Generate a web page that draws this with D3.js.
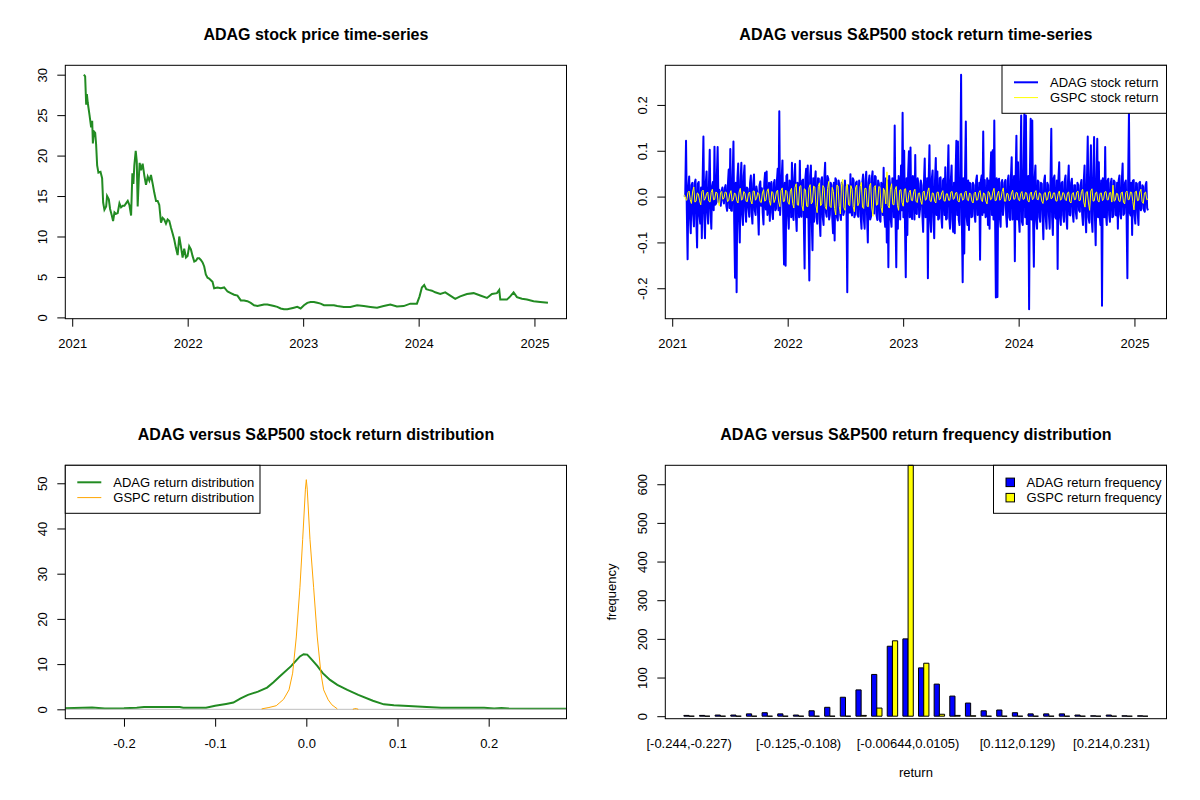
<!DOCTYPE html>
<html>
<head>
<meta charset="utf-8">
<script src="https://cdn.jsdelivr.net/npm/d3@7"></script>
<style>
  body { margin: 0; background: #fff; }
  svg { font-family: "Liberation Sans", Arial, sans-serif; }
</style>
</head>
<body>
<div id="chart"></div>
<script>
// ---- data ----

// ADAG closing price, time as decimal year
const priceTime = [2021.101, 2021.112, 2021.121, 2021.127, 2021.135, 2021.150, 2021.164, 2021.173, 2021.179, 2021.187,
  2021.199, 2021.207, 2021.216, 2021.227, 2021.245, 2021.259, 2021.268, 2021.279, 2021.294, 2021.302,
  2021.317, 2021.328, 2021.343, 2021.354, 2021.366, 2021.380, 2021.394, 2021.409, 2021.423, 2021.438,
  2021.452, 2021.466, 2021.481, 2021.495, 2021.510, 2021.521, 2021.530, 2021.538, 2021.550, 2021.559,
  2021.567, 2021.576, 2021.584, 2021.596, 2021.610, 2021.625, 2021.639, 2021.654, 2021.668, 2021.682,
  2021.697, 2021.711, 2021.726, 2021.740, 2021.754, 2021.769, 2021.783, 2021.797, 2021.812, 2021.826,
  2021.841, 2021.855, 2021.869, 2021.884, 2021.898, 2021.913, 2021.927, 2021.941, 2021.956, 2021.970,
  2021.985, 2021.999, 2022.013, 2022.028, 2022.042, 2022.057, 2022.071, 2022.085, 2022.100, 2022.114,
  2022.129, 2022.143, 2022.157, 2022.172, 2022.186, 2022.201, 2022.215, 2022.229, 2022.258, 2022.287,
  2022.316, 2022.345, 2022.373, 2022.402, 2022.431, 2022.460, 2022.489, 2022.517, 2022.546, 2022.575,
  2022.604, 2022.632, 2022.661, 2022.690, 2022.719, 2022.748, 2022.776, 2022.805, 2022.834, 2022.863,
  2022.892, 2022.920, 2022.949, 2022.978, 2023.007, 2023.036, 2023.064, 2023.093, 2023.122, 2023.151,
  2023.180, 2023.208, 2023.237, 2023.266, 2023.295, 2023.352, 2023.409, 2023.467, 2023.525, 2023.582,
  2023.640, 2023.697, 2023.755, 2023.812, 2023.870, 2023.928, 2023.985, 2024.008, 2024.028, 2024.048,
  2024.066, 2024.086, 2024.115, 2024.143, 2024.187, 2024.230, 2024.273, 2024.316, 2024.359, 2024.417,
  2024.475, 2024.532, 2024.590, 2024.633, 2024.676, 2024.696, 2024.705, 2024.762, 2024.791, 2024.820,
  2024.849, 2024.892, 2024.935, 2024.993, 2025.050, 2025.117];
const priceValues = [30.0, 29.8, 26.3, 27.6, 26.5, 25.0, 23.5, 24.3, 21.5, 23.0,
  22.8, 21.4, 18.8, 17.9, 18.0, 17.2, 14.2, 13.3, 13.7, 15.0,
  14.6, 13.4, 12.6, 11.9, 13.0, 12.8, 12.9, 14.1, 13.6, 13.8,
  13.8, 14.1, 14.4, 13.9, 12.6, 17.8, 16.5, 18.8, 20.6, 19.3,
  13.7, 17.0, 19.1, 18.2, 19.0, 17.5, 16.4, 17.4, 16.9, 17.6,
  16.5, 15.4, 14.4, 14.4, 13.9, 11.7, 12.3, 12.1, 11.6, 12.1,
  11.9, 11.1, 10.4, 9.6, 8.6, 7.7, 10.0, 8.8, 7.4, 8.5,
  7.4, 7.6, 8.8, 8.4, 7.6, 6.9, 7.0, 7.3, 7.3, 7.1,
  6.8, 6.3, 5.3, 4.9, 4.8, 4.6, 4.4, 3.6, 3.7, 3.6,
  3.7, 3.2, 3.0, 2.8, 2.7, 2.1, 2.1, 2.0, 1.8, 1.5,
  1.4, 1.5, 1.6, 1.6, 1.5, 1.4, 1.3, 1.1, 1.0, 1.0,
  1.1, 1.2, 1.3, 1.1, 1.5, 1.8, 1.9, 1.9, 1.8, 1.7,
  1.5, 1.5, 1.5, 1.5, 1.4, 1.3, 1.3, 1.5, 1.4, 1.3,
  1.2, 1.4, 1.6, 1.35, 1.4, 1.7, 1.7, 2.6, 3.7, 4.0,
  3.5, 3.4, 3.3, 3.1, 2.9, 3.1, 2.7, 2.3, 2.6, 2.9,
  3.0, 2.7, 2.4, 2.9, 3.0, 3.4, 2.2, 2.2, 2.6, 3.1,
  2.5, 2.3, 2.2, 2.0, 1.9, 1.8];

// daily returns, evenly spread between the first and last return date
const returnStart = 2021.106;
const returnEnd = 2025.117;
const adagReturns = [
  0.000, 0.004, 0.122, -0.030, -0.137, 0.020, 0.044, -0.045, -0.080, 0.025,
  0.030, -0.040, -0.065, 0.030, 0.037, -0.050, -0.111, 0.028, 0.032, -0.042,
  -0.059, 0.020, -0.091, 0.035, 0.131, -0.038, -0.091, 0.030, 0.055, -0.035,
  -0.059, 0.025, 0.102, -0.032, -0.070, 0.022, 0.032, -0.030, 0.109, -0.018,
  -0.015, 0.045, 0.108, -0.012, 0.015, -0.010, -0.020, 0.012, 0.020, -0.008,
  -0.015, 0.018, 0.025, -0.020, -0.031, 0.028, 0.059, -0.025, 0.104, -0.030,
  -0.031, 0.040, 0.120, -0.060, -0.177, 0.030, -0.209, 0.040, 0.072, -0.045,
  -0.100, 0.035, 0.074, -0.040, -0.062, 0.045, 0.068, -0.030, -0.055, 0.020,
  0.017, -0.025, -0.044, 0.030, 0.046, -0.035, -0.059, 0.028, 0.048, -0.030,
  -0.040, 0.022, 0.010, -0.030, -0.083, 0.025, 0.033, -0.020, 0.018, -0.035,
  -0.061, 0.030, 0.052, -0.028, 0.055, -0.040, -0.026, 0.030, -0.053, 0.025,
  0.032, -0.035, -0.049, 0.028, 0.036, -0.030, -0.026, 0.035, 0.061, -0.030,
  0.186, -0.040, -0.004, 0.040, 0.079, -0.050, -0.148, 0.030, -0.151, 0.045,
  0.048, -0.040, -0.070, 0.035, 0.026, -0.045, 0.074, -0.035, -0.051, 0.040,
  0.071, -0.040, -0.075, 0.030, 0.028, -0.045, 0.078, -0.040, -0.044, 0.035,
  0.037, -0.050, -0.157, 0.040, 0.061, -0.045, 0.068, -0.060, -0.183, 0.045,
  0.068, -0.050, -0.117, 0.040, -0.055, 0.035, 0.055, -0.045, -0.059, 0.040,
  0.039, -0.050, -0.086, 0.035, 0.042, -0.045, -0.062, 0.040, 0.074, -0.035,
  -0.044, 0.045, 0.039, -0.050, -0.040, 0.030, 0.025, -0.045, -0.080, 0.030,
  -0.096, 0.040, 0.036, -0.045, -0.052, 0.035, 0.025, -0.040,
  -0.051, 0.030, 0.023, -0.040, -0.033, 0.035, 0.010, -0.030, -0.209, 0.025,
  0.000, -0.035, 0.049, -0.030, -0.041, 0.040, 0.036, -0.045, -0.038, 0.030,
  0.033, -0.040, -0.044, 0.035, 0.025, -0.045, -0.070, 0.030, 0.048, -0.050,
  -0.070, 0.035, 0.054, -0.040, -0.100, 0.030, 0.046, -0.050, -0.044, 0.040,
  0.055, -0.035, -0.037, 0.045, 0.043, -0.040, -0.051, 0.035, 0.028, -0.050,
  -0.055, 0.030, 0.025, -0.040, 0.063, -0.045, -0.066, 0.040, -0.100, 0.035,
  -0.154, 0.045, 0.028, -0.050, -0.066, 0.040, 0.039, -0.045, 0.155, -0.040,
  -0.154, 0.035, -0.070, 0.045, 0.025, -0.050, 0.068, -0.030, 0.183, -0.045,
  0.100, -0.060, -0.176, 0.040, -0.084, 0.050, 0.099, -0.045, 0.107, -0.040,
  -0.049, 0.045, 0.032, -0.050, 0.091, -0.035, -0.038, 0.040, 0.028, -0.045,
  -0.028, 0.035, 0.025, -0.040, -0.077, 0.030, 0.083, -0.045, -0.044, 0.040,
  -0.178, 0.035, 0.112, -0.050, -0.077, 0.040, 0.057, -0.045, -0.091, 0.035,
  0.084, -0.040, 0.055, -0.050, -0.048, 0.040, 0.042, -0.045, -0.068, 0.035,
  0.039, -0.040, 0.064, -0.050, -0.048, 0.040, 0.112, -0.045, -0.070, 0.035,
  0.068, -0.050, -0.077, 0.030, -0.080, 0.045, 0.122, -0.040, 0.120, -0.050,
  -0.062, 0.040, 0.266, -0.055, -0.187, 0.040, -0.124, 0.050, 0.164, -0.045,
  -0.062, 0.035, -0.073, 0.030, 0.028, -0.045, -0.044, 0.030, 0.025, -0.040,
  -0.055, 0.035, 0.046, -0.040, -0.033, 0.030, -0.138, 0.035, 0.046, -0.040,
  0.142, -0.035, 0.036, -0.045, -0.041, 0.040, -0.062, 0.035, -0.070, 0.045,
  0.097, -0.040, 0.101, -0.050, 0.166, -0.045, -0.220, 0.040, -0.219, 0.035,
  0.039, -0.045, -0.066, 0.030, 0.036, -0.040, -0.019, 0.030,
  0.036, -0.040, -0.066, 0.035, 0.046, -0.045, -0.051, 0.040, 0.086, -0.050,
  -0.033, 0.045, -0.141, 0.040, 0.133, -0.050, 0.075, -0.045, -0.077, 0.050,
  0.177, -0.055, -0.062, 0.050, 0.180, -0.045, 0.177, -0.060, -0.030, 0.045,
  -0.246, 0.050, 0.170, -0.050, 0.166, -0.045, -0.153, 0.040, 0.068, -0.050,
  -0.070, 0.035, 0.032, -0.045, -0.055, 0.030, 0.028, -0.040, -0.093, 0.035,
  0.046, -0.045, -0.070, 0.030, 0.025, -0.040, -0.070, 0.035, 0.148, -0.045,
  -0.084, 0.040, 0.046, -0.045, -0.048, 0.035, -0.158, 0.040, 0.075, -0.045,
  -0.062, 0.030, 0.032, -0.040, -0.055, 0.035, 0.046, -0.045, -0.070, 0.030,
  0.068, -0.040, -0.041, 0.030, 0.039, -0.035, -0.055, 0.025, 0.025, -0.035,
  -0.048, 0.030, 0.025, -0.030, -0.033, 0.025, 0.036, -0.040, -0.062, 0.035,
  0.068, -0.045, -0.078, 0.040, 0.131, -0.045, -0.057, 0.040, 0.112, -0.050,
  -0.077, 0.045, 0.130, -0.040, -0.106, 0.035, 0.126, -0.045, 0.075, -0.040,
  -0.062, 0.035, -0.238, 0.040, 0.039, -0.045, 0.108, -0.040, -0.062, 0.035,
  0.039, -0.040, -0.055, 0.030, 0.039, -0.045, -0.044, 0.035, 0.032, -0.040,
  -0.041, 0.030, -0.070, 0.035, 0.046, -0.040, -0.048, 0.035, 0.072, -0.040,
  -0.037, 0.030, 0.035, -0.045, -0.178, 0.040, 0.184, -0.035, -0.041, 0.030,
  -0.084, 0.035, 0.036, -0.040, -0.059, 0.030, 0.028, -0.035, -0.062, 0.030,
  0.032, -0.030, -0.026, 0.025, 0.021, -0.030, -0.033, 0.025, 0.032, -0.025, -0.030];
const gspcReturns = [
  0.004, -0.006, -0.008, 0.009, 0.012, -0.007, -0.015, 0.010, 0.021, -0.012,
  -0.010, 0.008, 0.006, -0.009, -0.018, 0.011, 0.014, -0.008, -0.004, 0.007,
  0.010, -0.010, -0.012, 0.009, 0.016, -0.007, -0.006, 0.010, 0.008, -0.012,
  -0.020, 0.008, 0.011, -0.006, -0.003, 0.010, 0.009, -0.011, -0.009, 0.006,
  0.013, -0.010, -0.007, 0.008, 0.005, -0.009, -0.014, 0.010, 0.018, -0.008,
  -0.005, 0.011, 0.007, -0.010, -0.011, 0.007, 0.010, -0.009, -0.016, 0.012,
  0.012, -0.008, -0.004, 0.009, 0.006, -0.011, -0.013, 0.008, 0.015, -0.010,
  -0.008, 0.012, 0.017, -0.009, -0.019, 0.011, 0.009, -0.013, -0.006, 0.010,
  0.014, -0.012, -0.022, 0.013, 0.019, -0.011, -0.010, 0.014, 0.011, -0.012,
  -0.017, 0.012,
  0.018, -0.015, -0.025, 0.020, 0.028, -0.018, -0.019, 0.022, 0.024, -0.020,
  -0.031, 0.017, 0.015, -0.021, -0.022, 0.019, 0.026, -0.016, -0.012, 0.023,
  0.021, -0.019, -0.035, 0.022, 0.030, -0.020, -0.016, 0.024, 0.019, -0.022,
  -0.028, 0.018, 0.033, -0.021, -0.024, 0.020, 0.011, -0.026, -0.040, 0.025,
  0.023, -0.021, -0.038, 0.027, 0.038, -0.024, -0.030, 0.022, 0.027, -0.018,
  -0.020, 0.024, 0.016, -0.022, -0.033, 0.019, 0.025, -0.020, -0.014, 0.022,
  0.031, -0.023, -0.026, 0.018, 0.018, -0.021, -0.022, 0.024, 0.029, -0.025,
  -0.043, 0.020, 0.024, -0.019, -0.017, 0.022, 0.020, -0.024, -0.035, 0.018,
  0.012, -0.016, 0.054, -0.020, -0.025, 0.016, 0.028, -0.017, -0.018, 0.015,
  0.022, -0.019, -0.030, 0.014, 0.015, -0.013, -0.021, 0.016, 0.017, -0.012,
  -0.012, 0.009, 0.014, -0.008, -0.009, 0.011, 0.016, -0.010, -0.013, 0.007,
  0.008, -0.009, -0.017, 0.010, 0.012, -0.008, -0.006, 0.011, 0.019, -0.009,
  -0.011, 0.008, 0.007, -0.010, -0.014, 0.009, 0.010, -0.007, -0.005, 0.008,
  0.013, -0.009, -0.010, 0.006, 0.006, -0.008, -0.008, 0.010, 0.011, -0.006,
  -0.004, 0.008, 0.009, -0.009, -0.012, 0.006, 0.007, -0.008, -0.006, 0.009,
  0.012, -0.007, -0.009, 0.008, 0.005, -0.010, -0.014, 0.007, 0.010, -0.008,
  -0.007, 0.009, 0.013, -0.006, -0.011, 0.008, 0.006, -0.010, -0.016, 0.011,
  0.009, -0.007, -0.005, 0.010, 0.018, -0.009, -0.008, 0.006, 0.012, -0.008,
  -0.004, 0.011, 0.019, -0.010, -0.010, 0.007, 0.006, -0.009, -0.007, 0.008,
  0.014, -0.006, -0.005, 0.009, 0.008, -0.007,
  -0.009, 0.007, 0.011, -0.006, -0.005, 0.009, 0.008, -0.008, -0.012, 0.006,
  0.010, -0.007, -0.004, 0.009, 0.013, -0.006, -0.007, 0.008, 0.006, -0.010,
  -0.015, 0.007, 0.009, -0.008, -0.006, 0.010, 0.011, -0.005, -0.003, 0.008,
  0.008, -0.009, -0.010, 0.006, 0.012, -0.008, -0.005, 0.009, 0.007, -0.006,
  -0.009, 0.008, 0.010, -0.011, -0.014, 0.006, 0.009, -0.007, -0.006, 0.010,
  0.012, -0.009, -0.008, 0.011, 0.016, -0.012, -0.023, 0.009, 0.011, -0.014,
  -0.030, 0.012, 0.017, -0.010, -0.009, 0.008, 0.010, -0.008, -0.012, 0.007,
  0.008, -0.009, -0.005, 0.010, 0.011, -0.007, -0.007, 0.008, 0.009, -0.012,
  0.025, -0.010, -0.008, 0.007, 0.006, -0.009, -0.011, 0.008, 0.010, -0.012,
  -0.016, 0.009, 0.012, -0.007, -0.006, 0.010, 0.009, -0.011, -0.029, 0.010,
  0.012, -0.009, -0.008, 0.010, 0.016, -0.011, -0.015, 0.008, 0.010, -0.007, -0.005];

// kernel density estimates
const densXLim = [-0.244, 0.265];
const densYLim = [0, 51.9];
const adagDensX = [-0.275, -0.245, -0.235, -0.221, -0.200, -0.186, -0.178, -0.160, -0.139, -0.135,
  -0.120, -0.110, -0.100, -0.088, -0.080, -0.072, -0.064, -0.053, -0.043, -0.036,
  -0.029, -0.017, -0.007, -0.003, 0.001, 0.006, 0.012, 0.018, 0.026, 0.034,
  0.045, 0.057, 0.073, 0.085, 0.096, 0.112, 0.132, 0.148, 0.170, 0.195,
  0.206, 0.214, 0.222, 0.246, 0.295];
const adagDensY = [0.20, 0.37, 0.40, 0.20, 0.25, 0.37, 0.50, 0.50, 0.50, 0.35,
  0.36, 0.37, 0.80, 1.20, 1.50, 2.40, 3.20, 3.90, 4.80, 6.00,
  7.30, 9.50, 11.70, 12.20, 12.10, 11.00, 9.60, 8.00, 6.50, 5.40,
  4.30, 3.20, 1.90, 1.10, 0.90, 0.74, 0.50, 0.37, 0.37, 0.37,
  0.20, 0.30, 0.20, 0.15, 0.10];
const gspcDensX = [-0.049, -0.041, -0.033, -0.029, -0.025, -0.019, -0.015, -0.011, -0.007, -0.004,
  -0.001, 0.000, 0.001, 0.004, 0.008, 0.012, 0.016, 0.019, 0.024, 0.028, 0.034];
const gspcDensY = [0.1, 0.4, 0.8, 1.5, 2.2, 4.3, 8.0, 16.0, 27.0, 37.6,
  48.7, 50.8, 48.7, 37.6, 27.0, 16.0, 8.0, 4.3, 2.1, 1.0, 0.1];
const gspcTailX = [0.051, 0.053, 0.055, 0.057];
const gspcTailY = [0.0, 0.15, 0.15, 0.0];

// return frequency per bin
const binLabels = ["[-0.244,-0.227)", "[-0.227,-0.21)", "[-0.21,-0.193)", "[-0.193,-0.176)", "[-0.176,-0.159)",
  "[-0.159,-0.142)", "[-0.142,-0.125)", "[-0.125,-0.108)", "[-0.108,-0.0913)", "[-0.0913,-0.0743)",
  "[-0.0743,-0.0574)", "[-0.0574,-0.0404)", "[-0.0404,-0.0234)", "[-0.0234,-0.00644)", "[-0.00644,0.0105)",
  "[0.0105,0.0275)", "[0.0275,0.0444)", "[0.0444,0.0614)", "[0.0614,0.0784)", "[0.0784,0.0953)",
  "[0.0953,0.112)", "[0.112,0.129)", "[0.129,0.146)", "[0.146,0.163)", "[0.163,0.18)",
  "[0.18,0.197)", "[0.197,0.214)", "[0.214,0.231)", "[0.231,0.248)", "[0.248,0.265]"];
const adagFreq = [2, 2, 3, 3, 6, 9, 6, 3, 14, 23, 49, 68, 108, 181, 200, 125, 83, 52, 34, 14, 16, 9, 6, 6, 6, 3, 1, 3, 1, 1];
const gspcFreq = [0, 0, 0, 0, 0, 0, 0, 0, 0, 0, 0, 2, 21, 195, 649, 137, 5, 2, 1, 0, 0, 0, 0, 0, 0, 0, 0, 0, 0, 0];

// tick values and labels
const yearTicks = [2021, 2022, 2023, 2024, 2025];
const priceTicks = [0, 5, 10, 15, 20, 25, 30];
const returnTicks = [-0.2, -0.1, 0.0, 0.1, 0.2];
const returnTickLabels = ["-0.2", "-0.1", "0.0", "0.1", "0.2"];
const densYTicks = [0, 10, 20, 30, 40, 50];
const freqTicks = [0, 100, 200, 300, 400, 500, 600];

// ---- layout (R par(mfrow = c(2, 2)) look) ----
const W = 1200, H = 800, panelW = 600, panelH = 400;
const margin = { top: 65.3, right: 33.5, bottom: 81.3, left: 65.3 };
const innerW = panelW - margin.left - margin.right;
const innerH = panelH - margin.top - margin.bottom;

const svg = d3.select("#chart").append("svg")
  .attr("width", W)
  .attr("height", H);
svg.append("rect").attr("width", W).attr("height", H).attr("fill", "#fff");

// R's default 4% axis extension
function rPad(ext) {
  const d = (ext[1] - ext[0]) * 0.04;
  return [ext[0] - d, ext[1] + d];
}

function yearToDate(y) {
  const yr = Math.floor(y);
  const a = Date.UTC(yr, 0, 1), b = Date.UTC(yr + 1, 0, 1);
  return new Date(a + (y - yr) * (b - a));
}

function makePanel(col, row, id, title) {
  const g = svg.append("g")
    .attr("transform", `translate(${col * panelW + margin.left}, ${row * panelH + margin.top})`);
  g.append("clipPath").attr("id", id)
    .append("rect").attr("width", innerW).attr("height", innerH);
  g.append("text")
    .attr("x", innerW / 2)
    .attr("y", 40 - margin.top)
    .attr("text-anchor", "middle")
    .style("font-weight", "bold")
    .style("font-size", "16px")
    .text(title);
  const plot = g.append("g").attr("clip-path", `url(#${id})`);
  return { g, plot };
}

function drawBox(g) {
  g.append("rect")
    .attr("width", innerW)
    .attr("height", innerH)
    .attr("fill", "none")
    .attr("stroke", "#000")
    .attr("stroke-width", 1);
}

function xAxis(g, scale, values, labels) {
  const ax = g.append("g")
    .attr("transform", `translate(0, ${innerH})`)
    .call(d3.axisBottom(scale).tickValues(values).tickFormat((d, i) => labels[i]).tickSize(8).tickSizeOuter(0));
  ax.select(".domain").remove();
  ax.attr("font-family", null).attr("font-size", 13);
  ax.selectAll("text").attr("y", 29).attr("dy", 0).attr("fill", "#000");
  return ax;
}

function yAxis(g, scale, values, labels) {
  const ax = g.append("g")
    .call(d3.axisLeft(scale).tickValues(values).tickFormat((d, i) => labels[i]).tickSize(8).tickSizeOuter(0));
  ax.select(".domain").remove();
  ax.attr("font-family", null).attr("font-size", 13);
  ax.selectAll("text")
    .attr("x", 0)
    .attr("y", -18.6)
    .attr("dy", 0)
    .attr("transform", "rotate(-90)")
    .attr("fill", "#000")
    .style("text-anchor", "middle");
  return ax;
}

// line legend, R style
function lineLegend(g, x0, y0, w, items) {
  const lg = g.append("g").attr("transform", `translate(${x0}, ${y0})`);
  lg.append("rect").attr("width", w).attr("height", 48)
    .attr("fill", "#fff").attr("stroke", "#000");
  items.forEach((it, i) => {
    const y = 17 + i * 15.3;
    lg.append("line").attr("x1", 12).attr("x2", 36).attr("y1", y).attr("y2", y)
      .attr("stroke", it.color).attr("stroke-width", it.width);
    lg.append("text").attr("x", 48).attr("y", y).attr("dy", "0.35em")
      .style("font-size", "13px").text(it.label);
  });
}

// ---- panel 1: price time series ----
const timeDomain = rPad(d3.extent(priceTime)).map(yearToDate);
const p1 = makePanel(0, 0, "clip1", "ADAG stock price time-series");
const x1 = d3.scaleUtc().domain(timeDomain).range([0, innerW]);
const y1 = d3.scaleLinear().domain(rPad(d3.extent(priceValues))).range([innerH, 0]);

p1.plot.append("path")
  .datum(priceTime.map((t, i) => [yearToDate(t), priceValues[i]]))
  .attr("fill", "none")
  .attr("stroke", "forestgreen")
  .attr("stroke-width", 2)
  .attr("d", d3.line().x(d => x1(d[0])).y(d => y1(d[1])));
drawBox(p1.g);
xAxis(p1.g, x1, yearTicks.map(yearToDate), yearTicks.map(String));
yAxis(p1.g, y1, priceTicks, priceTicks.map(String));

// ---- panel 2: return time series ----
const p2 = makePanel(1, 0, "clip2", "ADAG versus S&P500 stock return time-series");
const x2 = d3.scaleUtc().domain(timeDomain).range([0, innerW]);
const y2 = d3.scaleLinear().domain(rPad(d3.extent(adagReturns))).range([innerH, 0]);

function returnDates(n) {
  return d3.range(n).map(i => yearToDate(returnStart + i * (returnEnd - returnStart) / (n - 1)));
}
const adagDates = returnDates(adagReturns.length);
const gspcDates = returnDates(gspcReturns.length);
const retLine = d3.line().x(d => x2(d[0])).y(d => y2(d[1]));

p2.plot.append("path")
  .datum(adagReturns.map((v, i) => [adagDates[i], v]))
  .attr("fill", "none")
  .attr("stroke", "blue")
  .attr("stroke-width", 2)
  .attr("stroke-linejoin", "round")
  .attr("d", retLine);
p2.plot.append("path")
  .datum(gspcReturns.map((v, i) => [gspcDates[i], v]))
  .attr("fill", "none")
  .attr("stroke", "yellow")
  .attr("stroke-width", 1)
  .attr("d", retLine);
drawBox(p2.g);
xAxis(p2.g, x2, yearTicks.map(yearToDate), yearTicks.map(String));
yAxis(p2.g, y2, returnTicks, returnTickLabels);
lineLegend(p2.g, innerW - 164.5, 0, 164.5, [
  { label: "ADAG stock return", color: "blue", width: 2 },
  { label: "GSPC stock return", color: "yellow", width: 1 }
]);

// ---- panel 3: return densities ----
const p3 = makePanel(0, 1, "clip3", "ADAG versus S&P500 stock return distribution");
const x3 = d3.scaleLinear().domain(rPad(densXLim)).range([0, innerW]);
const y3 = d3.scaleLinear().domain(rPad(densYLim)).range([innerH, 0]);
const densLine = d3.line().x(d => x3(d[0])).y(d => y3(d[1]));

p3.plot.append("path")
  .datum(adagDensX.map((x, i) => [x, adagDensY[i]]))
  .attr("fill", "none")
  .attr("stroke", "forestgreen")
  .attr("stroke-width", 2)
  .attr("d", densLine);
p3.plot.append("line")
  .attr("x1", 0).attr("x2", innerW)
  .attr("y1", y3(0)).attr("y2", y3(0))
  .attr("stroke", "#bebebe")
  .attr("stroke-width", 1);
p3.plot.append("path")
  .datum(gspcDensX.map((x, i) => [x, gspcDensY[i]]))
  .attr("fill", "none")
  .attr("stroke", "orange")
  .attr("stroke-width", 1)
  .attr("d", densLine);
p3.plot.append("path")
  .datum(gspcTailX.map((x, i) => [x, gspcTailY[i]]))
  .attr("fill", "none")
  .attr("stroke", "orange")
  .attr("stroke-width", 1)
  .attr("d", densLine);
drawBox(p3.g);
xAxis(p3.g, x3, returnTicks, returnTickLabels);
yAxis(p3.g, y3, densYTicks, densYTicks.map(String));
lineLegend(p3.g, 0, 0, 194.7, [
  { label: "ADAG return distribution", color: "forestgreen", width: 2 },
  { label: "GSPC return distribution", color: "orange", width: 1 }
]);

// ---- panel 4: frequency bar plot (beside = TRUE) ----
const p4 = makePanel(1, 1, "clip4", "ADAG versus S&P500 return frequency distribution");
const nBins = binLabels.length;
const x4 = d3.scaleLinear().domain(rPad([1, 3 * nBins])).range([0, innerW]);
const freqMax = d3.max(adagFreq.concat(gspcFreq));
const y4 = d3.scaleLinear().domain([-0.01 * freqMax, freqMax]).range([innerH, 0]);

function barPath(left, v) {
  const xa = x4(left), xb = x4(left + 1), ya = y4(0), yb = y4(v);
  return `M${xa},${ya}H${xb}V${yb}H${xa}Z`;
}
const bars = [];
binLabels.forEach((lab, g) => {
  bars.push({ left: 1 + 3 * g, v: adagFreq[g], fill: "blue" });
  bars.push({ left: 2 + 3 * g, v: gspcFreq[g], fill: "yellow" });
});
p4.g.selectAll(".bar")
  .data(bars)
  .join("path")
  .attr("class", "bar")
  .attr("d", d => barPath(d.left, d.v))
  .attr("fill", d => d.fill)
  .attr("stroke", "#000")
  .attr("stroke-width", 1);
drawBox(p4.g);
yAxis(p4.g, y4, freqTicks, freqTicks.map(String));

// bin names, skipping the ones that would overlap (like R's axis)
const nameG = p4.g.append("g").style("font-size", "13px");
const mWidth = 10.8;
let lastRight = -Infinity;
binLabels.forEach((lab, g) => {
  const t = nameG.append("text")
    .attr("x", x4(2 + 3 * g))
    .attr("y", innerH + 29)
    .attr("text-anchor", "middle")
    .text(lab);
  const w = t.node().getComputedTextLength();
  const left = x4(2 + 3 * g) - w / 2;
  if (left < lastRight + mWidth) {
    t.remove();
  } else {
    lastRight = left + w;
  }
});

p4.g.append("text")
  .attr("x", innerW / 2)
  .attr("y", 777 - 400 - margin.top)
  .attr("text-anchor", "middle")
  .style("font-size", "13px")
  .text("return");
p4.g.append("text")
  .attr("transform", `translate(${616 - 600 - margin.left}, ${innerH / 2}) rotate(-90)`)
  .attr("text-anchor", "middle")
  .style("font-size", "13px")
  .text("frequency");

// fill legend
const lg4 = p4.g.append("g").attr("transform", `translate(${innerW - 173}, 0)`);
lg4.append("rect").attr("width", 173).attr("height", 48).attr("fill", "#fff").attr("stroke", "#000");
[{ label: "ADAG return frequency", fill: "blue" }, { label: "GSPC return frequency", fill: "yellow" }]
  .forEach((it, i) => {
    const y = 17 + i * 15.3;
    lg4.append("rect").attr("x", 12.5).attr("y", y - 4.2).attr("width", 8.5).attr("height", 8.5)
      .attr("fill", it.fill).attr("stroke", "#000");
    lg4.append("text").attr("x", 33).attr("y", y).attr("dy", "0.35em")
      .style("font-size", "13px").text(it.label);
  });
</script>
</body>
</html>
